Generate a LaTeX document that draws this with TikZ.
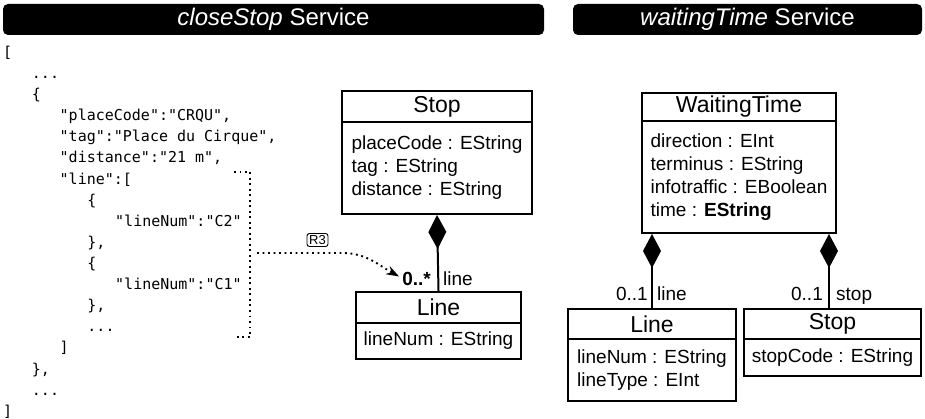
\documentclass[tikz,border=0pt]{standalone}
\usepackage{fontspec}
\setmainfont{Liberation Sans}
\newfontfamily\codefont{DejaVu Sans Mono}
\usetikzlibrary{arrows.meta}

\begin{document}
\begin{tikzpicture}[x=1pt,y=-1pt,
  hdr/.style={fill=black, rounded corners=5pt, text=white,
    font=\fontsize{24}{28}\selectfont, minimum height=31pt, inner sep=0pt},
  clsname/.style={draw, line width=2pt, font=\fontsize{23}{27}\selectfont,
    anchor=north west, inner sep=0pt},
  clsattr/.style={draw, line width=2pt, font=\fontsize{19}{23}\selectfont,
    align=left, anchor=north west, inner sep=0pt},
  code/.style={font=\codefont\fontsize{15}{21}\selectfont, anchor=base west, inner sep=0pt},
  role/.style={font=\fontsize{19}{23}\selectfont, inner sep=0pt},
  comp/.style={line width=2pt, -{Diamond[length=34pt,width=18pt]}},
  dotline/.style={line width=1.9pt, dash pattern=on 1.9pt off 3.6pt},
  reftag/.style={draw, line width=0.9pt, rounded corners=2.5pt,
    font=\fontsize{13}{15}\selectfont, inner xsep=2.2pt, inner ysep=1.8pt,
    text height=9.4pt, text depth=0pt}
]
\useasboundingbox (0,0) rectangle (925,419);

% service banners
\node[hdr, minimum width=541pt] (hdrA) at (273.5,19.5) {\textit{closeStop} Service};
\node[hdr, minimum width=349pt] (hdrB) at (747.5,19.5) {\textit{waitingTime} Service};

% JSON response of the closeStop service
\node[code] (c0)  at (3,57.5)      {[};
\node[code] (c1)  at (31.75,78.6)  {...};
\node[code] (c2)  at (31.75,99.7)  {\{};
\node[code] (c3)  at (59.5,120.8)  {"placeCode":"CRQU",};
\node[code] (c4)  at (59.5,141.9)  {"tag":"Place du Cirque",};
\node[code] (c5)  at (59.5,163.0)  {"distance":"21 m",};
\node[code] (c6)  at (59.5,184.1)  {"line":[};
\node[code] (c7)  at (87.25,205.2) {\{};
\node[code] (c8)  at (115,226.3)   {"lineNum":"C2"};
\node[code] (c9)  at (87.25,247.4) {\},};
\node[code] (c10) at (87.25,268.5) {\{};
\node[code] (c11) at (115,289.6)   {"lineNum":"C1"};
\node[code] (c12) at (87.25,310.7) {\},};
\node[code] (c13) at (87.25,331.8) {...};
\node[code] (c14) at (59.5,352.9)  {]};
\node[code] (c15) at (31.75,374.0) {\},};
\node[code] (c16) at (31.75,395.1) {...};
\node[code] (c17) at (3,416.2)     {]};

% bracket around the "line" array
\coordinate (brTop) at (234,172);
\coordinate (brBot) at (234,337);
\draw[dotline] (brTop) -- (250,172) -- (250,337) -- (brBot);

% closeStop model
\node[clsname, minimum width=190pt, minimum height=31pt] (lStopT) at (341,90) {Stop};
\node[clsattr, minimum width=190pt, minimum height=92pt] (lStopA) at (341,121)
  {placeCode : EString\\tag : EString\\distance : EString};
\node[clsname, minimum width=165pt, minimum height=31pt] (lLineT) at (355,291) {Line};
\node[clsattr, minimum width=165pt, minimum height=36pt] (lLineA) at (355,322)
  {lineNum : EString};
\draw[comp] (lLineT.north) -- (lStopA.south);
\node[role, anchor=base east, font=\fontsize{19}{23}\selectfont\bfseries] (multA) at (431,286) {0..*};
\node[role, anchor=base west] (roleA) at (443,286) {line};

% mapping of the array onto the reference
\coordinate (brMid) at (257,253);
\node[reftag] (r3) at (317.5,240) {R3};
\draw[dotline, -{Stealth[length=13pt,width=9pt]}]
  (brMid) -- (343,253) .. controls (366,253) and (380,266) .. ([xshift=-3pt,yshift=3pt]multA.west);

% waitingTime model
\node[clsname, minimum width=194pt, minimum height=28pt] (wtT) at (641,92) {WaitingTime};
\node[clsattr, minimum width=194pt, minimum height=112pt] (wtA) at (641,120)
  {direction : EInt\\terminus : EString\\infotraffic : EBoolean\\time : \textbf{EString}};
\node[clsname, minimum width=168pt, minimum height=30pt] (rLineT) at (567,308) {Line};
\node[clsattr, minimum width=168pt, minimum height=62pt] (rLineA) at (567,338)
  {lineNum : EString\\lineType : EInt};
\node[clsname, minimum width=177pt, minimum height=30pt] (rStopT) at (743,308) {Stop};
\node[clsattr, minimum width=177pt, minimum height=37pt] (rStopA) at (743,338)
  {stopCode : EString};
\draw[comp] (rLineT.north) -- (rLineT.north |- wtA.south);
\draw[comp] ([xshift=-3.5pt]rStopT.north) -- ([xshift=-3.5pt]rStopT.north |- wtA.south);
\node[role, anchor=base east] (multB) at (648,300) {0..1};
\node[role, anchor=base west] (roleB) at (657,300) {line};
\node[role, anchor=base east] (multC) at (823,300) {0..1};
\node[role, anchor=base west] (roleC) at (836,300) {stop};
\end{tikzpicture}
\end{document}
